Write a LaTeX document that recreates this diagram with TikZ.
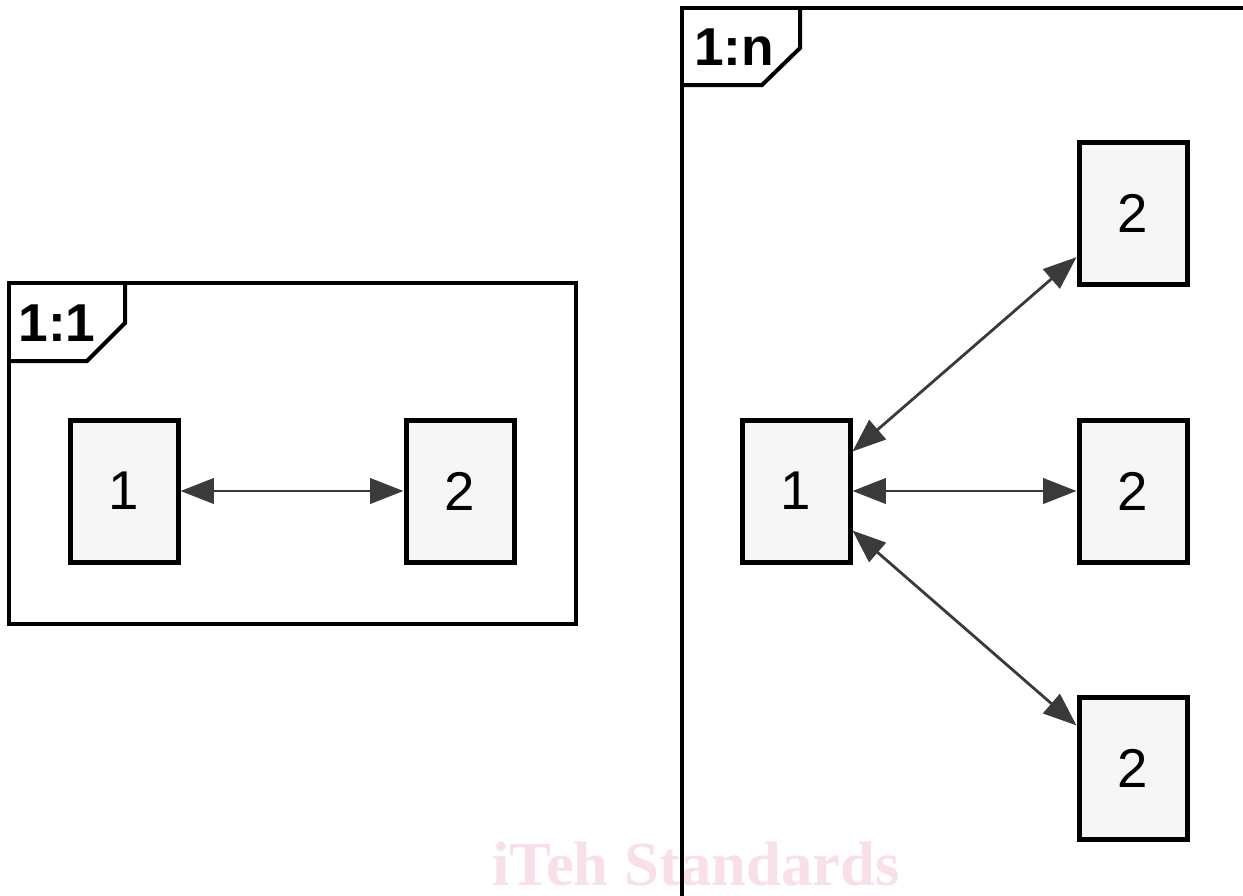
\documentclass[tikz,border=0pt]{standalone}
\usepackage{fontspec}
\setmainfont{Liberation Sans}
\newfontfamily\wmfont{Liberation Serif}
\usetikzlibrary{arrows.meta}
\definecolor{boxfill}{HTML}{F6F6F6}
\definecolor{conncol}{HTML}{3A3A3A}
\definecolor{wmcol}{HTML}{F9E0E8}
\tikzset{
  box/.style={draw=black, line width=3.75pt, fill=boxfill, minimum width=81pt, minimum height=106.5pt, inner sep=0pt, font=\fontsize{41}{41}\selectfont},
  frame/.style={draw=black, line width=3pt},
  conn/.style={draw=conncol, line width=2.1pt, {Triangle[length=25pt,width=19pt]}-{Triangle[length=25pt,width=19pt]}},
  flabel/.style={font=\fontsize{40}{40}\selectfont\bfseries, inner sep=0pt}
}
\begin{document}
\begin{tikzpicture}[x=0.75pt,y=-0.75pt]
\useasboundingbox (0,0) rectangle (1243,896);
\clip (0,0) rectangle (1243,896);
\fill[white] (0,0) rectangle (1243,896);
% watermark
\node[anchor=base, text=wmcol, font=\wmfont\bfseries\fontsize{47}{47}\selectfont, inner sep=0pt] (wm) at (696,885) {iTeh Standards};
% left frame
\draw[frame] (9,283) rectangle (576,624);
\draw[frame] (125,283) -- (125,323) -- (87,361) -- (9,361);
\node[flabel] (lab1) at (57,323) {1:1};
% right frame
\draw[frame] (682,8) rectangle (1270,920);
\draw[frame] (800,8) -- (800,48) -- (762,85) -- (682,85);
\node[flabel] (lab2) at (734,47) {1:n};
% left boxes
\node[box] (a1) at (124,491) {1};
\node[box] (a2) at (460,491) {2};
\draw[conn] (a1) -- (a2);
% right boxes
\node[box] (b1) at (796,491) {1};
\node[box] (c1) at (1133,213) {2};
\node[box] (c2) at (1133,491) {2};
\node[box] (c3) at (1133,768) {2};
\draw[conn] (b1.35) -- (c1.218);
\draw[conn] (b1) -- (c2);
\draw[conn] (b1.-35) -- (c3.143);
\end{tikzpicture}
\end{document}
